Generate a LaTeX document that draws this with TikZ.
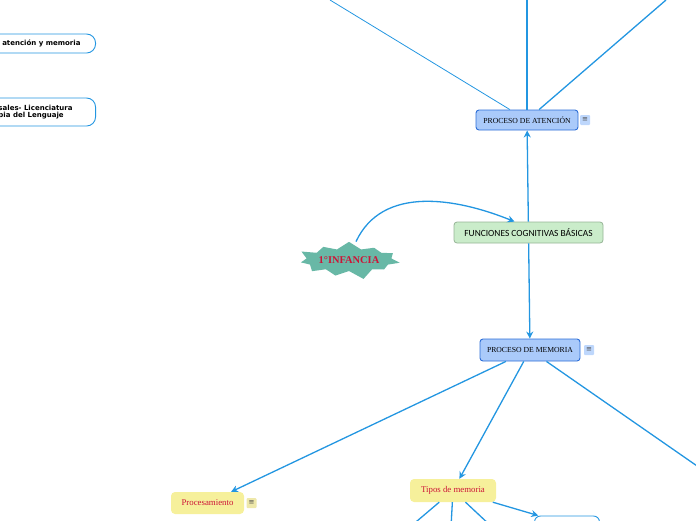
\documentclass[tikz,border=0pt]{standalone}
\usepackage{fontspec}
\setmainfont{Liberation Serif}
\newfontfamily\boxsans{DejaVu Sans}
\newfontfamily\calib{Carlito}
\usetikzlibrary{
    arrows.meta,
    shapes.symbols
}

\definecolor{linkblue}{RGB}{35,150,225}
\definecolor{procfill}{RGB}{170,202,250}
\definecolor{procdraw}{RGB}{45,110,215}
\definecolor{iconfill}{RGB}{190,215,252}
\definecolor{funcfill}{RGB}{202,236,202}
\definecolor{funcdraw}{RGB}{150,180,150}
\definecolor{starteal}{RGB}{104,184,166}
\definecolor{titlered}{RGB}{205,20,55}
\definecolor{subfill}{RGB}{246,240,155}
\definecolor{subicon}{RGB}{238,232,170}

\begin{document}
\begin{tikzpicture}[x=1pt, y=-1pt,
    link/.style={draw=linkblue, line width=1.3pt},
    thinlink/.style={draw=linkblue, line width=0.8pt},
    tip/.style={-{Stealth[length=7pt,width=7pt]}},
    sidebox/.style={draw=linkblue, line width=0.9pt, fill=white, rounded corners=9pt,
        font=\boxsans\bfseries\fontsize{7}{7.8}\selectfont, align=left},
    procbox/.style={draw=procdraw, line width=0.9pt, fill=procfill, rounded corners=3pt,
        font=\fontsize{7.7}{8}\selectfont, inner sep=2pt},
    menuicon/.style={fill=iconfill, rounded corners=1pt, minimum size=10pt, inner sep=0pt,
        font=\boxsans\fontsize{7}{7}\selectfont, text=black!70},
    subbox/.style={fill=subfill, rounded corners=4pt, inner sep=2pt,
        font=\fontsize{8.8}{9}\selectfont, text=titlered}
]

\useasboundingbox (0,0) rectangle (696,520);

% Side boxes (cut at the left edge)
\node[sidebox, anchor=east, minimum height=19pt, inner xsep=15pt] (mapTitle) at (96,43.5) {atención y memoria};
\node[sidebox, anchor=east, minimum height=28pt, inner xsep=23pt] (mapAuthor) at (96,112) {sales- Licenciatura\\pia del Lenguaje};

% Attention process
\node[procbox, minimum width=102pt, minimum height=20pt] (atencion) at (527,120) {PROCESO DE ATENCIÓN};
\node[menuicon] (atIcon) at (585,120) {≡};

% Free ends at the top
\coordinate (topLeft) at (330,0);
\coordinate (topMid) at (527,-2);
\coordinate (topRight) at (666,0);
\draw[thinlink] (topLeft) -- (atencion);
\draw[link] (topMid) -- (atencion);
\draw[link] (topRight) -- (atencion);

% Central topic
\node[draw=funcdraw, line width=0.8pt, fill=funcfill, rounded corners=3pt,
    minimum width=149pt, minimum height=21pt, inner sep=2pt,
    font=\calib\fontsize{9.4}{10}\selectfont] (funciones) at (528.5,232.5) {FUNCIONES COGNITIVAS BÁSICAS};

% Starburst
\node[starburst, starburst points=11, starburst point height=10pt, fill=starteal,
    minimum width=99pt, minimum height=42pt, inner sep=0pt,
    font=\bfseries\fontsize{10.4}{11}\selectfont, text=titlered] (infancia) at (349,260) {1°INFANCIA};

\draw[link, tip] (infancia.north) ++(7,0) coordinate (starTop)
    (starTop) to[out=65, in=158] ([xshift=-14pt]funciones.north);
\draw[link, tip] (funciones) -- (atencion);

% Memory process
\node[procbox, minimum width=100pt, minimum height=22pt] (memoria) at (530,350) {PROCESO DE MEMORIA};
\node[menuicon] (memIcon) at (589,350) {≡};
\draw[link, tip] (funciones) -- (memoria);

% Subtopics
\node[subbox, minimum width=73pt, minimum height=22pt] (procesamiento) at (207.5,503) {Procesamiento};
\node[menuicon, fill=subicon] (procIcon) at (251.5,503) {≡};
\node[subbox, minimum width=86pt, minimum height=23pt] (tipos) at (453,490.5) {Tipos de memoria};
\coordinate (rightEnd) at (700,468);
\draw[link, tip] (memoria) -- (procesamiento);
\draw[link, tip] (memoria) -- (tipos);
\draw[link] (memoria) -- (rightEnd);

% Memory types (cut at the bottom edge)
\node[draw=linkblue, line width=0.9pt, fill=white, rounded corners=6pt,
    minimum width=65pt, minimum height=16pt] (typeBox) at (567,524) {};
\coordinate (typeA) at (410,527);
\coordinate (typeB) at (451,527);
\coordinate (typeC) at (492,527);
\draw[link] (tipos) -- (typeA);
\draw[link] (tipos) -- (typeB);
\draw[link] (tipos) -- (typeC);
\draw[link, tip] (tipos) -- (typeBox);

\end{tikzpicture}
\end{document}
